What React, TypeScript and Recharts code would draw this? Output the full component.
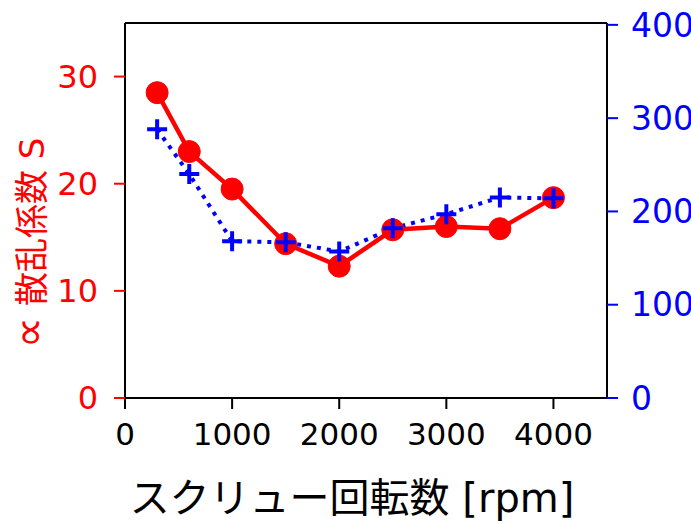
import React from 'react';
import { LineChart, Line, XAxis, YAxis } from 'recharts';

// screw speed [rpm]
const rpm = [300, 600, 1000, 1500, 2000, 2500, 3000, 3500, 4000];
// ∝ scattering coefficient S (left axis, red)
const scatter = [28.5, 23.0, 19.5, 14.4, 12.3, 15.7, 16.0, 15.8, 18.7];
// right axis series (blue, dotted)
const rightVals = [288, 240, 168, 167, 157, 182, 197, 215, 214];

const xTicks = [0, 1000, 2000, 3000, 4000];
const leftTicks = [0, 10, 20, 30];
const rightTicks = [0, 100, 200, 300, 400];

const data = rpm.map((r, i) => ({ rpm: r, s: scatter[i], b: rightVals[i] }));

const FONT = '"DejaVu Sans", "Noto Sans CJK JP", sans-serif';
const RED = '#ff0000';
const BLUE = '#0000ff';

const PlusDot = (props: any) => {
  const { cx, cy } = props;
  if (cx == null || cy == null) return null;
  return (
    <path
      d={`M${cx - 10},${cy}H${cx + 10}M${cx},${cy - 10}V${cy + 10}`}
      stroke={BLUE}
      strokeWidth={4}
      fill="none"
    />
  );
};

export default function App() {
  return (
    <div style={{ position: 'absolute', left: 0, top: 0, background: '#fff' }}>
      <LineChart
        width={691}
        height={525}
        data={data}
        margin={{ top: 0, right: 0, bottom: 0, left: 0 }}
      >
        <XAxis
          xAxisId="top"
          orientation="top"
          type="number"
          dataKey="rpm"
          domain={[0, 4500]}
          ticks={xTicks}
          height={23}
          tick={false}
          tickSize={11}
          axisLine={{ stroke: '#000', strokeWidth: 2 }}
          tickLine={{ stroke: '#000', strokeWidth: 2 }}
        />
        <XAxis
          xAxisId="bottom"
          orientation="bottom"
          type="number"
          dataKey="rpm"
          domain={[0, 4500]}
          ticks={xTicks}
          height={127}
          tickSize={11}
          tickMargin={14}
          tick={{ fill: '#000', fontSize: 31, fontFamily: FONT }}
          axisLine={{ stroke: '#000', strokeWidth: 2 }}
          tickLine={{ stroke: '#000', strokeWidth: 2 }}
          label={{
            content: () => (
              <text
                x={352}
                y={512}
                textAnchor="middle"
                fontSize={40}
                fontFamily={FONT}
                fill="#000"
              >
                スクリュー回転数 [rpm]
              </text>
            ),
          }}
        />
        <YAxis
          yAxisId="left"
          orientation="left"
          type="number"
          domain={[0, 35]}
          ticks={leftTicks}
          width={125}
          tickSize={11}
          tickMargin={16}
          tick={{ fill: RED, fontSize: 32, fontFamily: FONT }}
          axisLine={{ stroke: '#000', strokeWidth: 2 }}
          tickLine={{ stroke: RED, strokeWidth: 2 }}
          label={{
            content: () => (
              <text
                x={44}
                y={243}
                transform="rotate(-90, 44, 243)"
                textAnchor="middle"
                fontSize={34}
                fontFamily={FONT}
                fill={RED}
              >
                <tspan fontSize={44}>∝</tspan> 散乱係数 S
              </text>
            ),
          }}
        />
        <YAxis
          yAxisId="right"
          orientation="right"
          type="number"
          domain={[0, 402]}
          ticks={rightTicks}
          width={84}
          tickSize={11}
          tickMargin={13}
          tick={{ fill: BLUE, fontSize: 33, fontFamily: FONT }}
          axisLine={{ stroke: '#000', strokeWidth: 2 }}
          tickLine={{ stroke: BLUE, strokeWidth: 2 }}
        />
        <Line
          xAxisId="bottom"
          yAxisId="left"
          dataKey="s"
          stroke={RED}
          strokeWidth={4.5}
          dot={{ r: 11, fill: RED, stroke: RED, strokeWidth: 1 }}
          activeDot={false}
          isAnimationActive={false}
        />
        <Line
          xAxisId="bottom"
          yAxisId="right"
          dataKey="b"
          stroke={BLUE}
          strokeWidth={4}
          strokeDasharray="4 6"
          dot={<PlusDot />}
          activeDot={false}
          isAnimationActive={false}
        />
      </LineChart>
    </div>
  );
}
